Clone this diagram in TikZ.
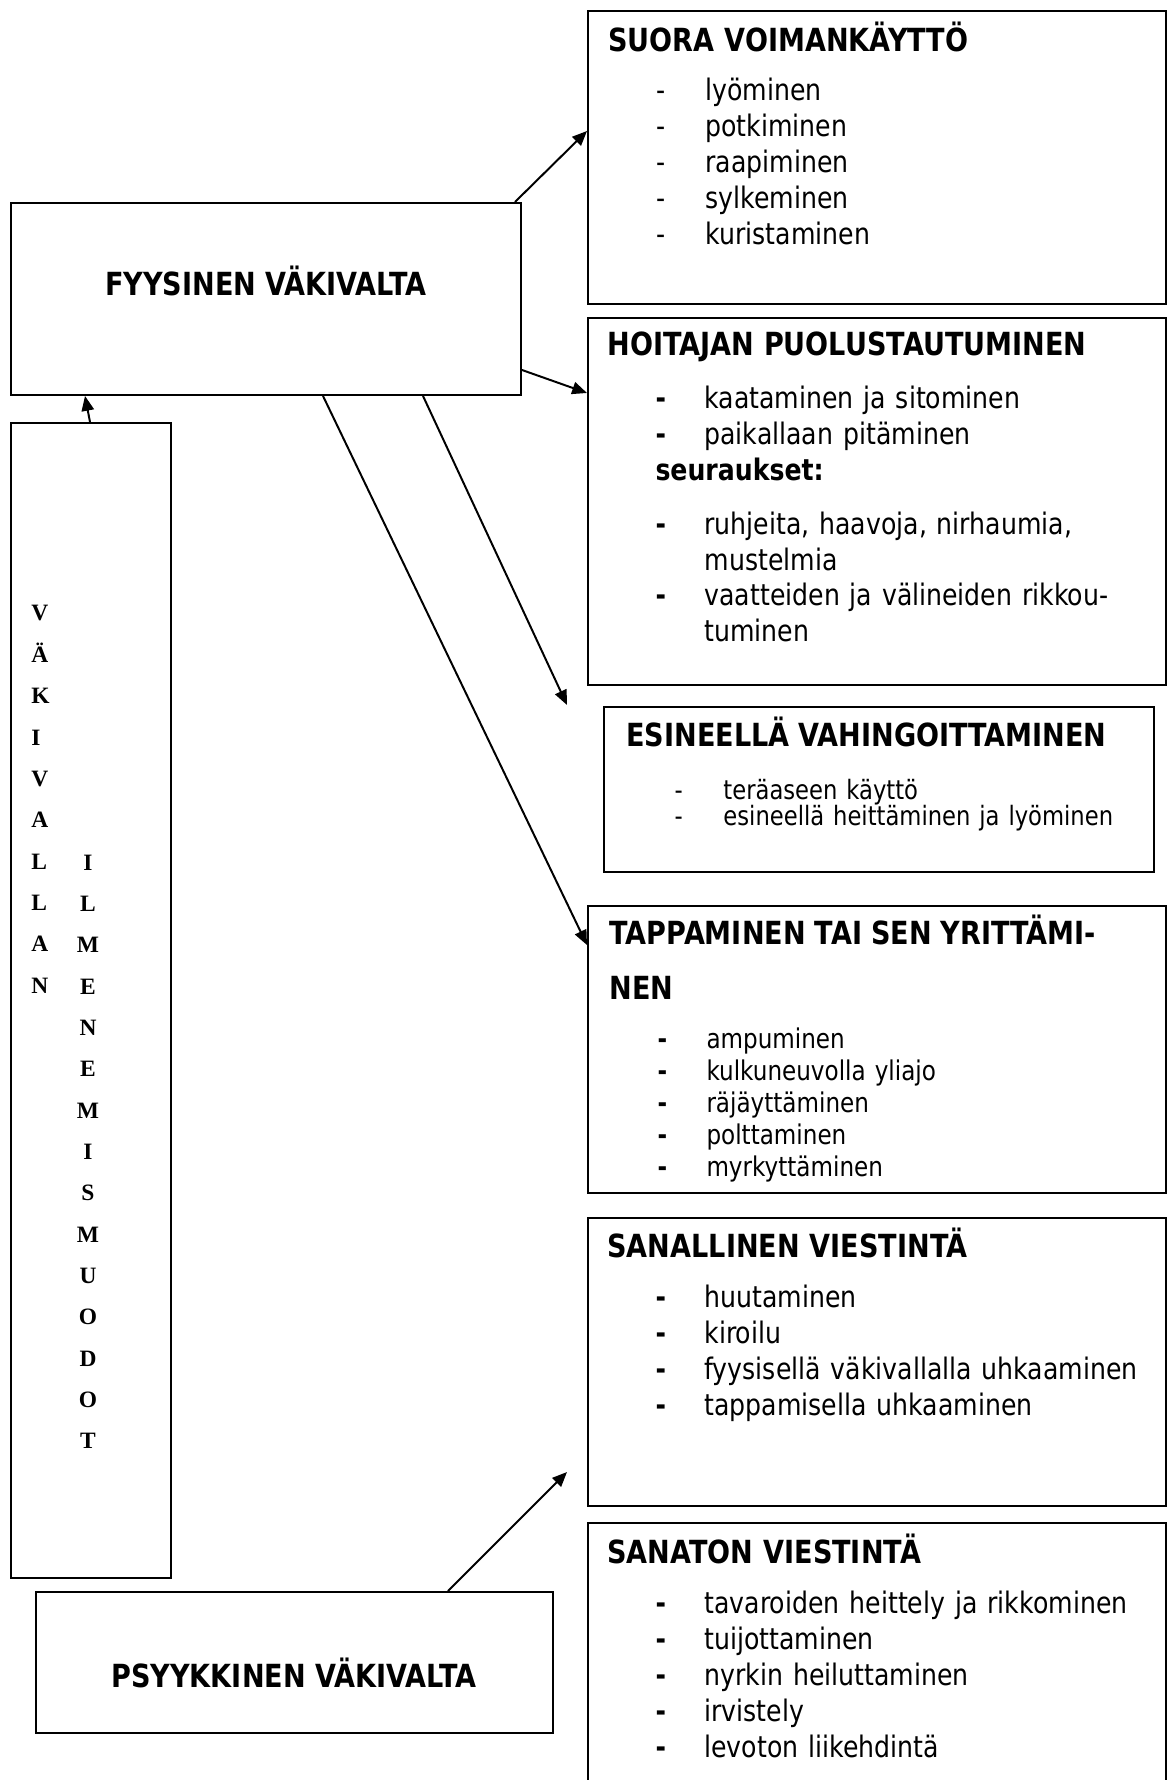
\documentclass[tikz,border=0pt]{standalone}
\usepackage{fontspec}
\newfontfamily\tahoma[FakeStretch=0.85]{DejaVu Sans}
\newfontfamily\tnr{Liberation Serif}
\usepackage{tikz}
\usetikzlibrary{positioning,arrows.meta}

\newdimen\pix \pix=0.405pt
\newcommand{\hdr}[1]{{\fontsize{12.9}{15}\selectfont\bfseries #1}}
\newcommand{\itm}[1]{\makebox[97\pix][l]{\hspace*{48\pix}-}#1}
\newcommand{\itmb}[1]{\makebox[97\pix][l]{\hspace*{48\pix}\textbf{-}}#1}
\newcommand{\tightlines}{\lineskiplimit=-20pt\relax}

\tikzset{
  box/.style={draw, rectangle, line width=0.8pt, inner sep=0pt, anchor=north west},
  txt/.style={anchor=base west, inner sep=0pt, align=left, text width=560\pix, font=\tahoma\fontsize{12}{14.5}\selectfont},
  title/.style={anchor=base, inner sep=0pt, font=\tahoma\fontsize{12.9}{15}\selectfont\bfseries},
  letters/.style={inner sep=0pt, text width=40\pix, font=\tnr\bfseries\fontsize{9.5}{16.74}\selectfont},
  arr/.style={line width=0.8pt, -{Triangle[length=6pt,width=5pt]}}
}

\begin{document}
\begin{tikzpicture}[x=0.405pt, y=-0.405pt]
\useasboundingbox (0,0) rectangle (1169,1780);
\clip (0,0) rectangle (1169,1780);

% left side
\node[box, minimum width=510\pix, minimum height=192\pix] (fyys) at (10,202) {};
\node[title] (fyystxt) at (266,296) {FYYSINEN VÄKIVALTA};
\node[box, minimum width=160\pix, minimum height=1155\pix] (vak) at (10,422) {};
\node[letters, align=left, anchor=base west] (vakcol1) at (31,621) {V\\Ä\\K\\I\\V\\A\\L\\L\\A\\N};
\node[letters, align=center, anchor=base] (vakcol2) at (88,870) {I\\L\\M\\E\\N\\E\\M\\I\\S\\M\\U\\O\\D\\O\\T};
\node[box, minimum width=517\pix, minimum height=141\pix] (psyyk) at (35,1591) {};
\node[title] (psyyktxt) at (294,1687) {PSYYKKINEN VÄKIVALTA};

% right side
\node[box, minimum width=578\pix, minimum height=293\pix] (suora) at (587,10) {};
\node[txt] (suoratxt) at (608,52) {\hdr{SUORA VOIMANKÄYTTÖ}\\[13\pix]
  \itm{lyöminen}\\
  \itm{potkiminen}\\
  \itm{raapiminen}\\
  \itm{sylkeminen}\\
  \itm{kuristaminen}};

\node[box, minimum width=578\pix, minimum height=367\pix] (hoit) at (587,317) {};
\node[txt] (hoittxt) at (607,356) {\hdr{HOITAJAN PUOLUSTAUTUMINEN}\\[17\pix]
  \itmb{kaataminen ja sitominen}\\
  \itmb{paikallaan pitäminen}\\
  \hspace*{48\pix}\textbf{seuraukset:}\\[18\pix]
  \itmb{ruhjeita, haavoja, nirhaumia,}\\
  \hspace*{97\pix}mustelmia\\
  \itmb{vaatteiden ja välineiden rikkou-}\\
  \hspace*{97\pix}tuminen};

\node[box, minimum width=550\pix, minimum height=165\pix] (esin) at (603,706) {};
\node[txt, font=\tahoma\fontsize{10.8}{10.53}\selectfont] (esintxt) at (626,746) {\tightlines\hdr{ESINEELLÄ VAHINGOITTAMINEN}\\[27\pix]
  \itm{teräaseen käyttö}\\
  \itm{esineellä heittäminen ja lyöminen}};

\node[box, minimum width=578\pix, minimum height=287\pix] (tapp) at (587,905) {};
\node[txt, font=\tahoma\fontsize{11}{12.96}\selectfont] (tapptxt) at (609,944) {\hdr{TAPPAMINEN TAI SEN YRITTÄMI-}\\[23\pix]
  \hdr{NEN}\\[17\pix]
  \itmb{ampuminen}\\
  \itmb{kulkuneuvolla yliajo}\\
  \itmb{räjäyttäminen}\\
  \itmb{polttaminen}\\
  \itmb{myrkyttäminen}};

\node[box, minimum width=578\pix, minimum height=288\pix] (sanal) at (587,1217) {};
\node[txt] (sanaltxt) at (607,1257) {\hdr{SANALLINEN VIESTINTÄ}\\[15\pix]
  \itmb{huutaminen}\\
  \itmb{kiroilu}\\
  \itmb{fyysisellä väkivallalla uhkaaminen}\\
  \itmb{tappamisella uhkaaminen}};

\node[box, minimum width=578\pix, minimum height=300\pix] (sanat) at (587,1522) {};
\node[txt] (sanattxt) at (607,1563) {\hdr{SANATON VIESTINTÄ}\\[15\pix]
  \itmb{tavaroiden heittely ja rikkominen}\\
  \itmb{tuijottaminen}\\
  \itmb{nyrkin heiluttaminen}\\
  \itmb{irvistely}\\
  \itmb{levoton liikehdintä}};

% arrows
\coordinate (esintip) at (567,705);
\coordinate (sanaltip) at (567,1472);
\draw[arr] ([shift={(-7,0)}]fyys.north east) -- ([shift={(0,121)}]suora.north west);
\draw[arr] ([shift={(0,168)}]fyys.north east) -- ([shift={(0,76)}]hoit.north west);
\draw[arr] ([shift={(413,0)}]fyys.south west) -- (esintip);
\draw[arr] ([shift={(313,0)}]fyys.south west) -- ([shift={(0,40)}]tapp.north west);
\draw[arr] ([shift={(80,0)}]vak.north west) -- ([shift={(75,0)}]fyys.south west);
\draw[arr] ([shift={(413,0)}]psyyk.north west) -- (sanaltip);
\end{tikzpicture}
\end{document}
